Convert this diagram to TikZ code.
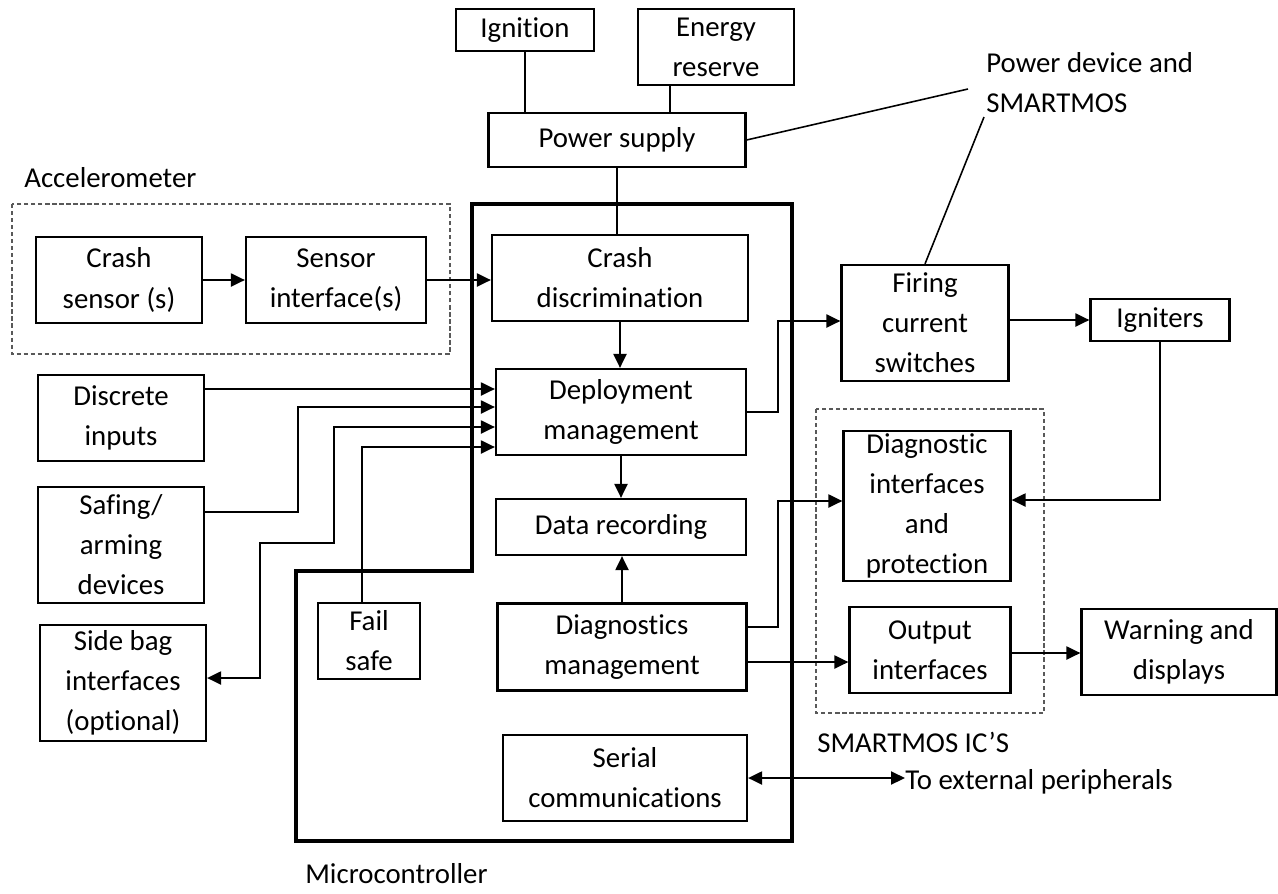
\documentclass[tikz,border=0pt]{standalone}
\usepackage{fontspec}
\setmainfont{Carlito}[Ligatures=NoCommon]
\usetikzlibrary{positioning,arrows.meta}

\tikzset{
  blk/.style={draw, line width=1.25pt, align=center, inner sep=0pt},
  sz/.style 2 args={minimum width=#1*0.02cm, minimum height=#2*0.02cm},
  grp/.style={draw=black!65, line width=0.6pt, dash pattern=on 2.4pt off 1.6pt},
  lbl/.style={inner sep=0pt, anchor=base west},
  wire/.style={line width=1.2pt},
  arr/.style={wire, -{Triangle[length=0.28cm, width=0.26cm]}},
  darr/.style={wire, {Triangle[length=0.28cm, width=0.26cm]}-{Triangle[length=0.28cm, width=0.26cm]}},
}

\begin{document}
\begin{tikzpicture}[x=0.02cm, y=-0.02cm, font=\fontsize{16.4}{22.8}\selectfont]
    \useasboundingbox (0,0) rectangle (1278,893);

    % groups
    \draw[grp] (12,204) rectangle (450,354);
    \draw[grp] (816,409) rectangle (1044,713);
    \draw[line width=2.5pt] (472,204) -- (792,204) -- (792,841) -- (296,841) -- (296,571) -- (472,571) -- cycle;

    % supply
    \node[blk, sz={138}{42}] (ign) at (525,30) {Ignition};
    \node[blk, sz={156}{76}] (enr) at (716,47) {Energy\\reserve};
    \node[blk, sz={257}{54}] (pwr) at (617,140) {Power supply};

    % accelerometer
    \node[blk, sz={166}{86}] (crs) at (119,280) {Crash\\sensor (s)};
    \node[blk, sz={180}{86}] (sif) at (336,280) {Sensor\\interface(s)};

    % microcontroller
    \node[blk, sz={256}{86}] (cdis) at (620,278) {Crash\\discrimination};
    \node[blk, sz={250}{86}] (dep) at (621,412) {Deployment\\management};
    \node[blk, sz={250}{56}] (rec) at (621,527) {Data recording};
    \node[blk, sz={249}{87}] (dmg) at (622,647) {Diagnostics\\management};
    \node[blk, sz={244}{86}] (ser) at (625,778) {Serial\\communications};
    \node[blk, sz={102}{76}] (fail) at (369,641) {Fail\\safe};

    % left inputs
    \node[blk, sz={166}{86}] (din) at (121,418) {Discrete\\inputs};
    \node[blk, sz={166}{116}] (saf) at (121,545) {Safing/\\arming\\devices};
    \node[blk, sz={166}{116}] (side) at (123,683) {Side bag\\interfaces\\(optional)};

    % right side
    \node[blk, sz={167}{116}] (fire) at (925,323) {Firing\\current\\switches};
    \node[blk, sz={139}{42}] (igt) at (1160,320) {Igniters};
    \node[blk, sz={167}{150}] (dint) at (927,506) {Diagnostic\\interfaces\\and\\protection};
    \node[blk, sz={161}{86}] (oint) at (930,650) {Output\\interfaces};
    \node[blk, sz={195}{86}] (warn) at (1179,652) {Warning and\\displays};

    % labels
    \node[lbl] (acc) at (24,187) {Accelerometer};
    \node[lbl] (mcu) at (305,883) {Microcontroller};
    \node[lbl] (smic) at (817,752) {SMARTMOS IC’S};
    \node[lbl] (ext) at (905,789) {To external peripherals};
    \node[inner sep=0pt, anchor=north west, align=left] (pdev) at (986,52) {Power device and\\SMARTMOS};
    \coordinate (pd1) at (968,89);
    \coordinate (pd2) at (984,117);

    % connections
    \draw[wire] (ign) -- (ign |- pwr.north);
    \draw[wire] (enr.south -| 670,0) -- (pwr.north -| 670,0);
    \draw[wire] (pwr) -- (pwr |- cdis.north);
    \draw[line width=0.9pt] (pwr.east) -- (pd1);
    \draw[line width=0.9pt] (pd2) -- (fire.north);

    \draw[arr] (crs) -- (sif);
    \draw[arr] (sif) -- (cdis.west |- sif);
    \draw[arr] (cdis.south) -- (cdis.south |- dep.north);
    \draw[arr] (dep) -- (rec);
    \draw[arr] (dmg) -- (dmg |- rec.south);

    \draw[arr] (din.east |- 0,389) -- (dep.west |- 0,389);
    \draw[arr] (saf.east |- 0,512) -| (298,407) -- (dep.west |- 0,407);
    \draw[darr] (side.east |- 0,678) -| (260,543) -| (334,427) -- (dep.west |- 0,427);
    \draw[arr] (fail.north -| 362,0) |- (dep.west |- 0,447);

    \draw[arr] (dep.east) -| (778,321) -- (fire.west |- 0,321);
    \draw[arr] (fire.east |- igt) -- (igt.west);
    \draw[arr] (igt.south) |- (dint.east |- 0,500);
    \draw[arr] (dmg.east |- 0,627) -| (778,501) -- (dint.west |- 0,501);
    \draw[arr] (dmg.east |- 0,662) -- (oint.west |- 0,662);
    \draw[arr] (oint.east |- 0,653) -- (warn.west |- 0,653);
    \draw[darr] (ser.east) -- (ser.east -| ext.west);
\end{tikzpicture}
\end{document}
